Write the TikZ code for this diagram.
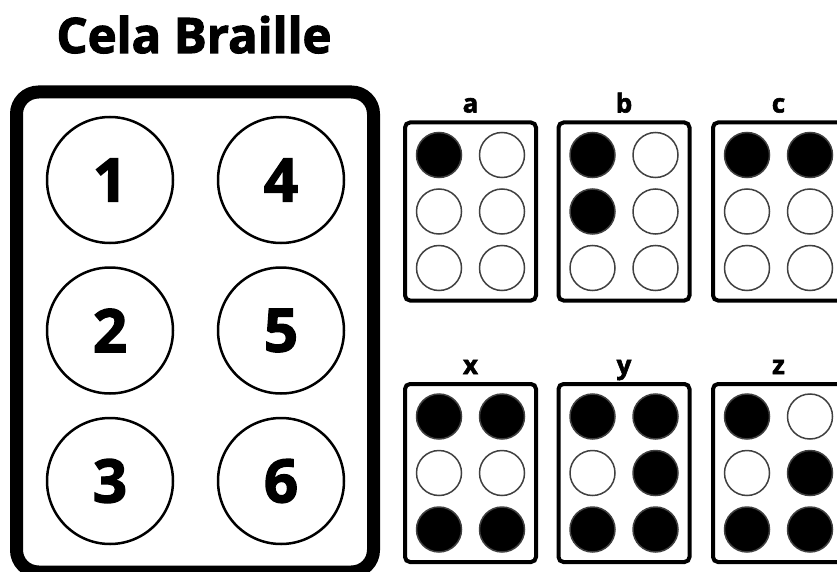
\documentclass[tikz,border=0pt]{standalone}
\usepackage{fontspec}
\setmainfont{Open Sans}[BoldFeatures={FakeBold=2.2}]
\usepackage{tikz}
\usetikzlibrary{positioning}

\tikzset{
    title/.style={font=\bfseries\fontsize{49}{49}\selectfont, anchor=base},
    bigcell/.style={draw, line width=13pt, rounded corners=22pt, minimum width=357pt, minimum height=480pt, inner sep=0pt},
    bigpin/.style={draw, circle, line width=2.5pt, minimum size=126pt, inner sep=0pt, font=\bfseries\fontsize{60}{60}\selectfont},
    cell/.style={draw, line width=4pt, rounded corners=5pt, minimum width=131pt, minimum height=178pt, inner sep=0pt},
    pin/.style={draw=black!75, circle, line width=1.5pt, minimum size=45pt, inner sep=0pt},
    letter/.style={font=\bfseries\fontsize{26}{26}\selectfont, anchor=base}
}

% one small cell: name, centre x, centre y, six dots (1 = raised)
\newcommand{\braillecell}[4]{
    \node[cell] (#1) at (#2,#3) {};
    \node[letter] (#1-label) at (#2,#3-99) {#1};
    \foreach \d [count=\i] in {#4} {
        \pgfmathtruncatemacro{\col}{(\i-1)/3}
        \pgfmathtruncatemacro{\row}{mod(\i-1,3)}
        \ifnum\d=1 \def\pinfill{black}\else\def\pinfill{white}\fi
        \node[pin, fill=\pinfill] (#1-\i) at (#2-31.5+63*\col,#3-56.5+56.5*\row) {};
    }
}

\begin{document}
\begin{tikzpicture}[x=1pt, y=-1pt]
    \useasboundingbox (0,0) rectangle (837,572);
    \clip (0,0) rectangle (837,572);

    % Title
    \node[title] (head) at (194,53) {Cela Braille};

    % The big cell with numbered dots
    \node[bigcell] (big) at (195,332) {};
    \node[bigpin] (p1) at (110,180) {1};
    \node[bigpin] (p2) at (110,330.5) {2};
    \node[bigpin] (p3) at (110,481) {3};
    \node[bigpin] (p4) at (281,180) {4};
    \node[bigpin] (p5) at (281,330.5) {5};
    \node[bigpin] (p6) at (281,481) {6};

    % Letters
    \braillecell{a}{470.5}{211.5}{1,0,0,0,0,0}
    \braillecell{b}{624}{211.5}{1,1,0,0,0,0}
    \braillecell{c}{778.5}{211.5}{1,0,0,1,0,0}
    \braillecell{x}{470.5}{473}{1,0,1,1,0,1}
    \braillecell{y}{624}{473}{1,0,1,1,1,1}
    \braillecell{z}{778.5}{473}{1,0,1,0,1,1}
\end{tikzpicture}
\end{document}
